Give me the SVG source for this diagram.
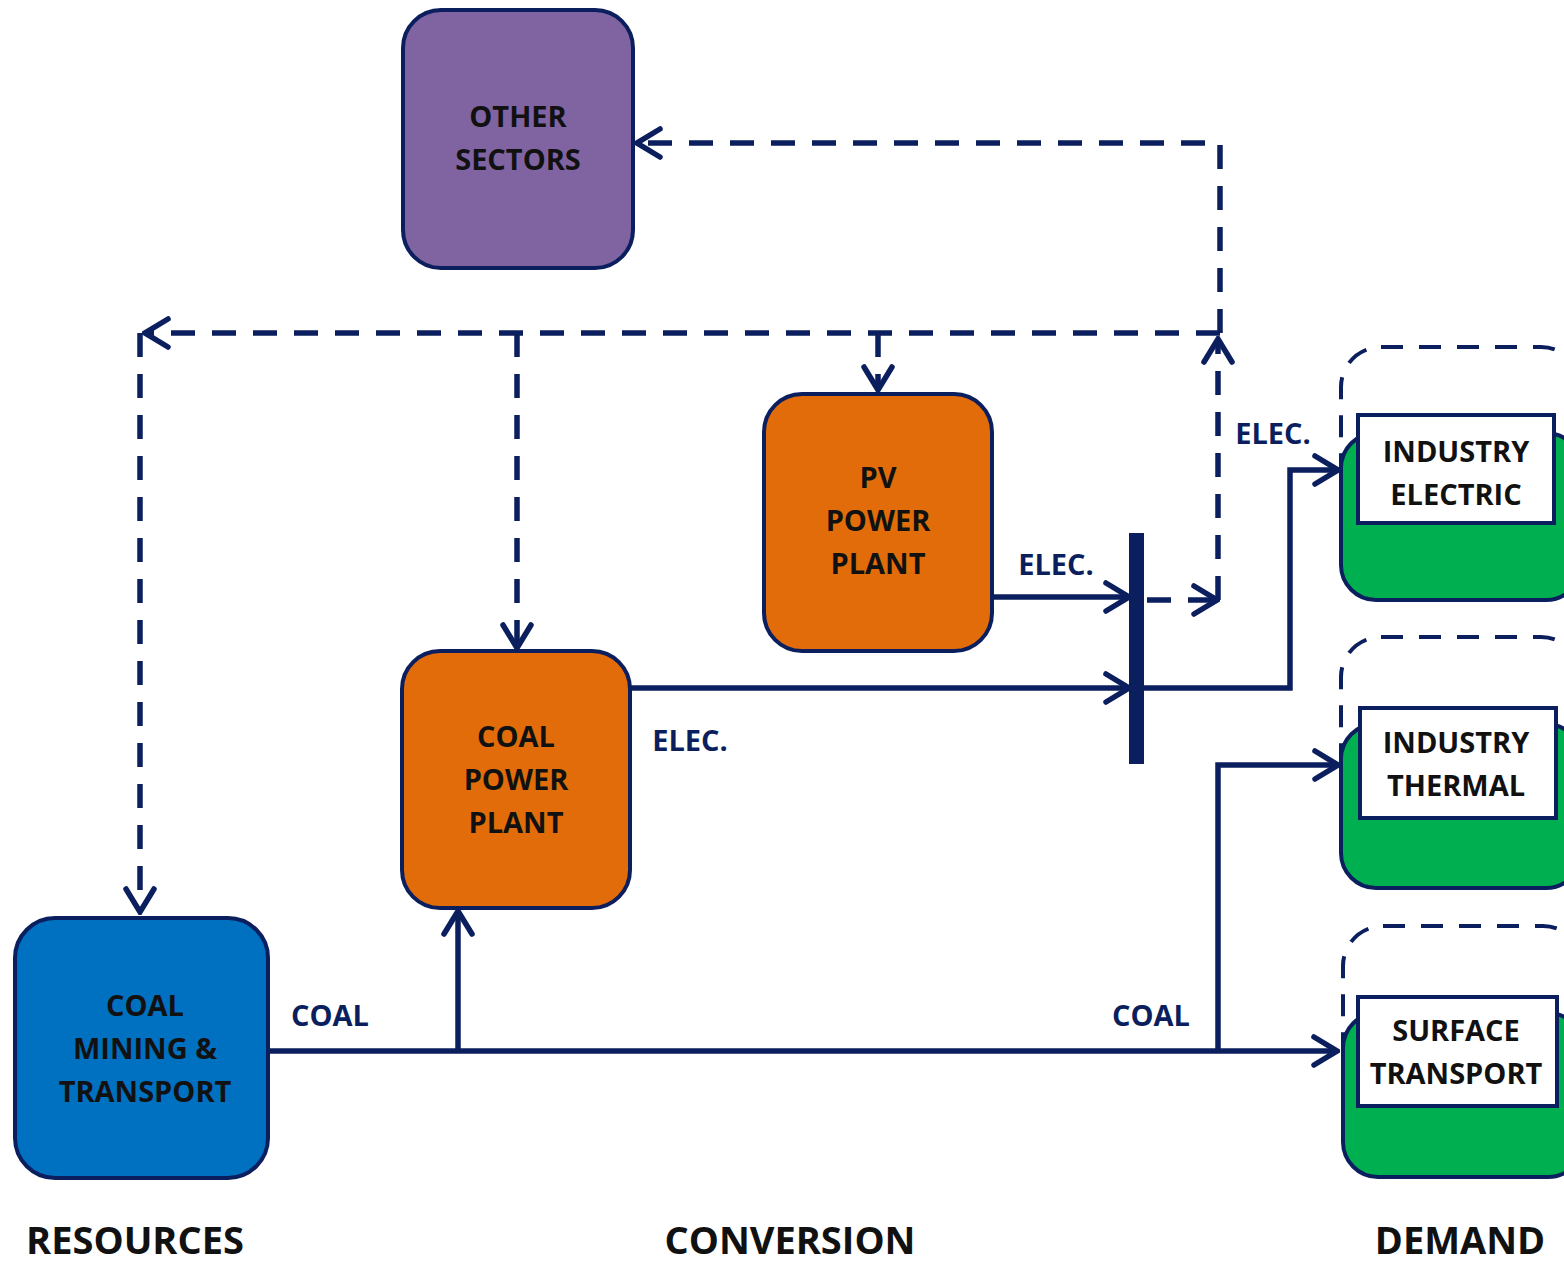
<svg xmlns="http://www.w3.org/2000/svg" width="1564" height="1264" viewBox="0 0 1564 1264">
<style>
.node{stroke:#0B1F5E;stroke-width:4}
.t{font-family:"Open Sans","Liberation Sans",sans-serif;font-weight:bold;font-size:29px;fill:#111;text-anchor:middle}
.lbl{font-family:"Open Sans","Liberation Sans",sans-serif;font-weight:bold;font-size:29px;fill:#0B1F5E;text-anchor:middle}
.big{font-family:"Open Sans","Liberation Sans",sans-serif;font-weight:bold;font-size:38px;fill:#111;text-anchor:middle}
.solid{fill:none;stroke:#0B1F5E;stroke-width:5.5;marker-end:url(#arr)}
.dash{fill:none;stroke:#0B1F5E;stroke-width:5.5;stroke-dasharray:24 17;marker-end:url(#arr)}
.dashbox{fill:none;stroke:#0B1F5E;stroke-width:4;stroke-dasharray:22 16}
.green{fill:#00B050;stroke:#0B1F5E;stroke-width:4}
.white{fill:#fff;stroke:#0B1F5E;stroke-width:4}
</style>
<defs>
<marker id="arr" viewBox="0 0 30 34" refX="27" refY="17" markerWidth="30" markerHeight="34" markerUnits="userSpaceOnUse" orient="auto">
<path d="M4,3 L27,17 L4,31" fill="none" stroke="#0B1F5E" stroke-width="5.5" stroke-dasharray="none" stroke-linecap="round"/>
</marker>
</defs>
<rect width="1564" height="1264" fill="#fff"/>

<g id="connectors">
<path class="solid" d="M268,1051 H1337"/>
<path class="solid" d="M458,1051 V911"/>
<path class="solid" d="M1218,1051 V765 H1338"/>
<path class="solid" d="M992,597 H1129"/>
<path class="solid" d="M630,688 H1129"/>
<path class="solid" d="M1143,688 H1290 V470 H1338"/>
<rect x="1129" y="533" width="15" height="231" fill="#0B1F5E"/>
<path class="dash" d="M1147,600 H1217"/>
<path class="dash" d="M1218,600 V339"/>
<path class="dash" d="M1220,333 V143 H637"/>
<path class="dash" d="M1220,333 H145"/>
<path class="dash" d="M140,333 V912"/>
<path class="dash" d="M517,333 V648"/>
<path class="dash" d="M878,333 V390"/>
</g>

<g id="other-sectors">
<rect class="node" x="403" y="10" width="230" height="258" rx="38" fill="#8064A2"/>
<text class="t" x="518" y="127">OTHER</text>
<text class="t" x="518" y="170">SECTORS</text>
</g>

<g id="pv-power-plant">
<rect class="node" x="764" y="394" width="228" height="257" rx="38" fill="#E36C0A"/>
<text class="t" x="878" y="488">PV</text>
<text class="t" x="878" y="531">POWER</text>
<text class="t" x="878" y="574">PLANT</text>
</g>

<g id="coal-power-plant">
<rect class="node" x="402" y="651" width="228" height="257" rx="38" fill="#E36C0A"/>
<text class="t" x="516" y="747">COAL</text>
<text class="t" x="516" y="790">POWER</text>
<text class="t" x="516" y="833">PLANT</text>
</g>

<g id="coal-mining">
<rect class="node" x="15" y="918" width="253" height="260" rx="40" fill="#0070C0"/>
<text class="t" x="145" y="1016">COAL</text>
<text class="t" x="145" y="1059">MINING &amp;</text>
<text class="t" x="145" y="1102">TRANSPORT</text>
</g>

<g id="industry-electric">
<rect class="dashbox" x="1341" y="347" width="240" height="250" rx="40"/>
<rect class="green" x="1341" y="433" width="240" height="167" rx="35"/>
<rect class="white" x="1358" y="415" width="196" height="108"/>
<text class="t" x="1456" y="462">INDUSTRY</text>
<text class="t" x="1456" y="505">ELECTRIC</text>
</g>

<g id="industry-thermal">
<rect class="dashbox" x="1341" y="637" width="240" height="250" rx="40"/>
<rect class="green" x="1341" y="724" width="240" height="164" rx="35"/>
<rect class="white" x="1360" y="708" width="196" height="110"/>
<text class="t" x="1456" y="753">INDUSTRY</text>
<text class="t" x="1456" y="796">THERMAL</text>
</g>

<g id="surface-transport">
<rect class="dashbox" x="1343" y="926" width="240" height="250" rx="40"/>
<rect class="green" x="1343" y="1013" width="240" height="164" rx="35"/>
<rect class="white" x="1358" y="997" width="199" height="109"/>
<text class="t" x="1456" y="1041">SURFACE</text>
<text class="t" x="1456" y="1084">TRANSPORT</text>
</g>

<g id="labels">
<text class="lbl" x="330" y="1026">COAL</text>
<text class="lbl" x="1151" y="1026">COAL</text>
<text class="lbl" x="690" y="751">ELEC.</text>
<text class="lbl" x="1056" y="575">ELEC.</text>
<text class="lbl" x="1273" y="444">ELEC.</text>
<text class="big" x="135" y="1254">RESOURCES</text>
<text class="big" x="790" y="1254">CONVERSION</text>
<text class="big" x="1460" y="1254">DEMAND</text>
</g>
</svg>
